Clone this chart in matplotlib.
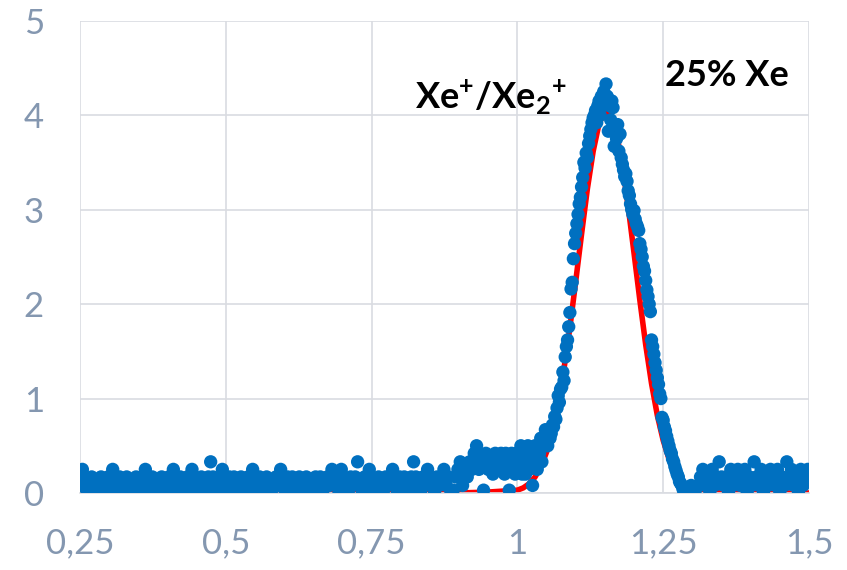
import numpy as np
import matplotlib
matplotlib.use("Agg")
import matplotlib.pyplot as plt

plt.rcParams["font.family"] = ["Lato", "DejaVu Sans"]
plt.rcParams["mathtext.fontset"] = "custom"
plt.rcParams["mathtext.rm"] = "Lato"
plt.rcParams["mathtext.bf"] = "Lato:bold"

# measured signal, sampled on regular grids (start, step) in three pieces
# baseline 0.25 .. 0.966, step 0.004
xa_start, xa_step = 0.25, 0.004
ya = [
    0.08, 0.25, 0.17, 0, 0.08, 0.17, 0, 0.08, 0, 0.17,
    0.08, 0, 0.17, 0.08, 0.25, 0.08, 0, 0.17, 0.08, 0,
    0.17, 0.08, 0, 0.08, 0.17, 0, 0.08, 0.17, 0.25, 0.08,
    0, 0.17, 0.08, 0, 0.08, 0.17, 0.08, 0, 0.17, 0.08,
    0.25, 0.08, 0, 0.17, 0.08, 0, 0.17, 0.08, 0.25, 0.17,
    0, 0.08, 0.17, 0.08, 0, 0.17, 0.33, 0.17, 0.08, 0,
    0.17, 0.25, 0.08, 0, 0.17, 0.08, 0.17, 0, 0.08, 0.17,
    0.08, 0, 0.17, 0.08, 0.25, 0.08, 0, 0.17, 0.08, 0,
    0.17, 0.08, 0, 0.08, 0.17, 0.08, 0.25, 0.08, 0, 0.17,
    0.08, 0.17, 0, 0.08, 0.17, 0.08, 0, 0.17, 0.08, 0.08,
    0, 0.17, 0.08, 0.17, 0, 0.08, 0.17, 0.08, 0.25, 0.17,
    0.08, 0, 0.25, 0.17, 0.08, 0, 0.17, 0.08, 0.17, 0.33,
    0.08, 0, 0.17, 0.08, 0.25, 0.17, 0, 0.08, 0.17, 0.08,
    0, 0.17, 0.08, 0.17, 0.25, 0.08, 0, 0.17, 0.08, 0.17,
    0.08, 0, 0.17, 0.33, 0.17, 0.08, 0, 0.17, 0.08, 0.25,
    0.17, 0.08, 0, 0.17, 0.08, 0.17, 0.25, 0.08, 0.17, 0,
    0.03, 0.17, 0.25, 0.33, 0.08, 0.25, 0.17, 0.33, 0.25, 0.42,
    0.5, 0.25, 0.33, 0.03, 0.42, 0.25, 0.33, 0.2, 0.42, 0.3,
]

# peak 0.97 .. 1.288, step 0.002
xb_start, xb_step = 0.97, 0.002
yb = [
    0.25, 0.42, 0.3, 0.33, 0.2, 0.42, 0.25, 0.33, 0.03, 0.38,
    0.42, 0.25, 0.33, 0.2, 0.42, 0.3, 0.25, 0.33, 0.5, 0.2,
    0.3, 0.42, 0.2, 0.33, 0.5, 0.25, 0.42, 0.33, 0.08, 0.42,
    0.5, 0.33, 0.25, 0.5, 0.42, 0.58, 0.33, 0.58, 0.5, 0.67,
    0.58, 0.5, 0.67, 0.58, 0.63, 0.72, 0.7, 0.81, 0.78, 0.9,
    1.03, 0.96, 1.1, 1.12, 1.28, 1.19, 1.44, 1.55, 1.62, 1.76,
    1.91, 2.16, 2.23, 2.48, 2.64, 2.75, 2.85, 2.95, 3.06, 3.13,
    3.24, 3.34, 3.5, 3.44, 3.6, 3.55, 3.7, 3.78, 3.85, 3.92,
    3.97, 4.0, 4.05, 3.92, 4.1, 4.15, 4.0, 4.2, 4.1, 4.25,
    4.18, 4.33, 4.2, 3.83, 4.1, 3.95, 4.15, 4.08, 3.67, 3.9,
    3.75, 3.9, 3.62, 3.8, 3.55, 3.48, 3.42, 3.35, 3.38, 3.3,
    3.2, 3.15, 3.06, 3.0, 2.95, 2.99, 2.9, 2.85, 2.82, 2.78,
    2.64, 2.58, 2.5, 2.4, 2.35, 2.25, 2.15, 2.08, 2.0, 1.92,
    1.62, 1.55, 1.47, 1.38, 1.3, 1.22, 1.15, 1.05, 1.0, 0.8,
    0.77, 0.7, 0.66, 0.6, 0.55, 0.5, 0.45, 0.42, 0.36, 0.33,
    0.28, 0.24, 0.2, 0.17, 0.12, 0.1, 0.08, 0.04, 0.0, 0.03,
]

# tail 1.29 .. 1.498, step 0.004
xc_start, xc_step = 1.29, 0.004
yc = [
    0.04, 0.0, 0.08, 0.0, 0.04, 0.08, 0.17, 0.25, 0.08, 0.17,
    0.0, 0.25, 0.08, 0.17, 0.33, 0.17, 0.08, 0.17, 0.0, 0.25,
    0.08, 0.17, 0.25, 0.08, 0.17, 0.25, 0.0, 0.17, 0.08, 0.33,
    0.17, 0.08, 0.25, 0.0, 0.17, 0.08, 0.25, 0.17, 0.08, 0.25,
    0.0, 0.17, 0.08, 0.33, 0.17, 0.25, 0.08, 0.17, 0.0, 0.25,
    0.08, 0.17, 0.25,
]

# fitted curve (red)
fit_x = [0.25, 0.90, 0.95, 1.00, 1.01, 1.02, 1.03, 1.04, 1.05, 1.06, 1.07, 1.08,
         1.09, 1.10, 1.11, 1.12, 1.13, 1.14, 1.15, 1.16, 1.17, 1.18, 1.19, 1.20,
         1.21, 1.22, 1.23, 1.24, 1.25, 1.26, 1.27, 1.28, 1.29, 1.30, 1.32, 1.35, 1.50]
fit_y = [0.0, 0.0, 0.01, 0.03, 0.054, 0.097, 0.167, 0.275, 0.433, 0.656, 0.948, 1.32,
         1.75, 2.24, 2.74, 3.22, 3.62, 3.91, 4.04, 4.01, 3.81, 3.47, 3.03, 2.54,
         2.04, 1.57, 1.16, 0.82, 0.557, 0.36, 0.226, 0.135, 0.077, 0.043, 0.01, 0.0, 0.0]

xticks = [0.25, 0.5, 0.75, 1.0, 1.25, 1.5]
xtick_labels = ["0,25", "0,5", "0,75", "1", "1,25", "1,5"]
yticks = [0, 1, 2, 3, 4, 5]

xa = xa_start + xa_step * np.arange(len(ya))
xb = xb_start + xb_step * np.arange(len(yb))
xc = xc_start + xc_step * np.arange(len(yc))
x = np.concatenate([xa, xb, xc])
y = np.concatenate([ya, yb, yc])

fig = plt.figure(figsize=(8.47, 5.70), dpi=100)
ax = fig.add_axes([0.0945, 0.1351, 0.8606, 0.8286])

ax.plot(fit_x, fit_y, color="#ff0000", lw=4, zorder=2, solid_capstyle="butt")
ax.scatter(x, y, s=92, color="#0070c0", edgecolors="none", zorder=3)

ax.set_xlim(0.25, 1.5)
ax.set_ylim(0, 5)
ax.set_xticks(xticks)
ax.set_xticklabels(xtick_labels)
ax.set_yticks(yticks)
ax.grid(True, color="#d9dce1", lw=1.2, zorder=0)
ax.set_axisbelow(True)
for s in ["top", "right", "left"]:
    ax.spines[s].set_visible(False)
ax.spines["bottom"].set_color("#d9dce1")
ax.spines["bottom"].set_linewidth(1.2)
ax.tick_params(length=0, labelsize=25, labelcolor="#8497b0")
ax.tick_params(axis="x", pad=25)
ax.tick_params(axis="y", pad=26)

ax.text(0.824, 4.06, r"$\mathbf{Xe^{+}/Xe_{2}{}^{+}}$", fontsize=26,
        va="baseline", ha="left", color="black")
ax.text(1.253, 4.31, "25% Xe", fontsize=26, fontweight="bold",
        va="baseline", ha="left", color="black")

fig.savefig("out.png", dpi=100)
